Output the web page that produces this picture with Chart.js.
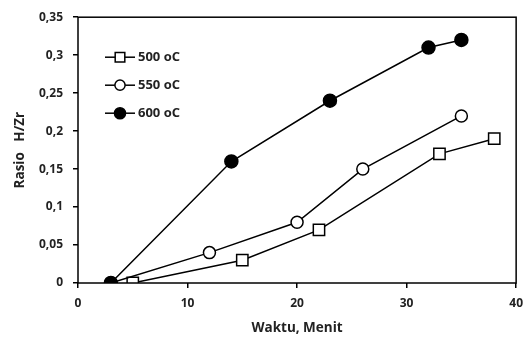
<!DOCTYPE html>
<html>
<head>
<meta charset="utf-8">
<script src="https://cdn.jsdelivr.net/npm/chart.js@4/dist/chart.umd.min.js"></script>
<style>
  html, body { margin: 0; padding: 0; background: #fff; }
  #wrap { width: 531px; height: 340px; }
</style>
</head>
<body>
<div id="wrap"><canvas id="chart" width="531" height="340"></canvas></div>
<script>
const seriesNames = ['500 oC', '550 oC', '600 oC']

const time500 = [5, 15, 22, 33, 38]
const ratio500 = [0, 0.03, 0.07, 0.17, 0.19]

const time550 = [3, 12, 20, 26, 35]
const ratio550 = [0, 0.04, 0.08, 0.15, 0.22]

const time600 = [3, 14, 23, 32, 35]
const ratio600 = [0, 0.16, 0.24, 0.31, 0.32]

const xTicks = [0, 10, 20, 30, 40]
const yTicks = [0, 0.05, 0.1, 0.15, 0.2, 0.25, 0.3, 0.35]

const fontFam = '"Open Sans", "DejaVu Sans", sans-serif'

function toPoints(xs, ys) {
    return xs.map((x, i) => ({ x: x, y: ys[i] }))
}

// lower order is drawn on top, so the filled circles come last
const datasets = [
    { label: seriesNames[0], data: toPoints(time500, ratio500), pointStyle: 'rect', pointRadius: 8, backgroundColor: '#fff', order: 2 },
    { label: seriesNames[1], data: toPoints(time550, ratio550), pointStyle: 'circle', pointRadius: 6, backgroundColor: '#fff', order: 1 },
    { label: seriesNames[2], data: toPoints(time600, ratio600), pointStyle: 'circle', pointRadius: 6.5, backgroundColor: '#000', order: 0 }
]
for (let ds of datasets) {
    ds.borderColor = '#000'
    ds.borderWidth = 1.5
    ds.pointBorderWidth = 1.5
    ds.pointBorderColor = '#000'
    ds.pointBackgroundColor = ds.backgroundColor
    ds.pointHoverRadius = ds.pointRadius
    ds.tension = 0
}

// box round the plot area
const frame = {
    id: 'frame',
    afterDraw(chart) {
        const a = chart.chartArea
        const ctx = chart.ctx
        ctx.save()
        ctx.strokeStyle = '#000'
        ctx.lineWidth = 1.5
        ctx.strokeRect(a.left, a.top, a.right - a.left, a.bottom - a.top)
        ctx.restore()
    }
}

// excel style legend: line with marker through it
const innerLegend = {
    id: 'innerLegend',
    afterDraw(chart) {
        const ctx = chart.ctx
        const a = chart.chartArea
        ctx.save()
        chart.data.datasets.forEach((ds, i) => {
            const y = a.top + 40 + i * 28
            const x0 = a.left + 27
            ctx.strokeStyle = '#000'
            ctx.lineWidth = 1.5
            ctx.beginPath()
            ctx.moveTo(x0, y)
            ctx.lineTo(x0 + 30, y)
            ctx.stroke()
            ctx.fillStyle = ds.pointBackgroundColor
            Chart.helpers.drawPoint(ctx, {
                pointStyle: ds.pointStyle,
                radius: ds.pointRadius * 0.85,
                borderWidth: 1.5
            }, x0 + 15, y)
            ctx.fillStyle = '#222'
            ctx.font = 'bold 13px ' + fontFam
            ctx.textBaseline = 'middle'
            ctx.fillText(ds.label, x0 + 33, y)
        })
        ctx.restore()
    }
}

new Chart(document.getElementById('chart').getContext('2d'), {
    type: 'scatter',
    data: { datasets: datasets },
    options: {
        responsive: false,
        animation: false,
        showLine: true,
        layout: { padding: { left: 8, right: 11, top: 14, bottom: 1 } },
        plugins: {
            legend: { display: false },
            tooltip: { enabled: false }
        },
        scales: {
            x: {
                type: 'linear',
                min: 0,
                max: 40,
                afterBuildTicks: (s) => { s.ticks = xTicks.map(v => ({ value: v })) },
                afterFit: (s) => { s.height = 56 },
                grid: { drawOnChartArea: false, drawTicks: true, tickLength: 5, color: '#000', lineWidth: 1.5 },
                border: { display: false },
                ticks: { color: '#222', padding: 8, font: { family: fontFam, size: 12, weight: 'bold' } },
                title: {
                    display: true,
                    text: 'Waktu, Menit',
                    color: '#222',
                    padding: { top: 4, bottom: 3 },
                    font: { family: fontFam, size: 13.5, weight: 'bold' }
                }
            },
            y: {
                type: 'linear',
                min: 0,
                max: 0.35,
                afterBuildTicks: (s) => { s.ticks = yTicks.map(v => ({ value: v })) },
                afterFit: (s) => { s.width = 70 },
                grid: { drawOnChartArea: false, drawTicks: true, tickLength: 5, color: '#000', lineWidth: 1.5 },
                border: { display: false },
                ticks: {
                    color: '#222',
                    padding: 10,
                    font: { family: fontFam, size: 12, weight: 'bold' },
                    callback: (v) => String(Math.round(v * 100) / 100).replace('.', ',')
                },
                title: {
                    display: true,
                    text: 'Rasio   H/Zr',
                    color: '#222',
                    padding: { top: 4, bottom: 4 },
                    font: { family: fontFam, size: 13.5, weight: 'bold' }
                }
            }
        }
    },
    plugins: [frame, innerLegend]
})
</script>
</body>
</html>
